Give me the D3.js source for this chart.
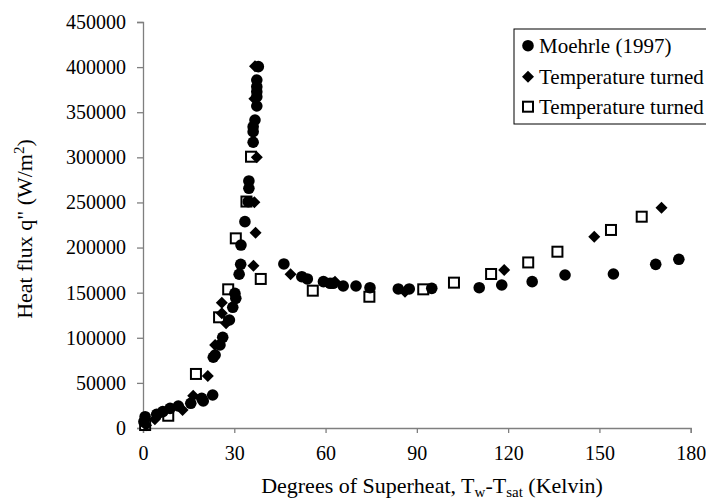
<!DOCTYPE html>
<html>
<head>
<meta charset="utf-8">
<script src="https://cdn.jsdelivr.net/npm/d3@7"></script>
<style>
  html, body { margin: 0; padding: 0; background: #fff; }
  svg text { font-family: 'Liberation Serif', 'Times New Roman', Times, serif; }
</style>
</head>
<body>
<svg id="chart" width="706" height="502"></svg>
<script>
// ---- Data ----
const seriesNames = ["Moehrle (1997)", "Temperature turned", "Temperature turned"];

const moehrleX = [0.3, 0.7, 4.5, 6.5, 8.9, 11.6, 15.7, 19.3, 19.8, 22.9, 23.1, 23.7, 25.3, 26.2, 28.4, 29.5, 30.2, 30.5, 31.6, 32.1, 32.2, 33.5, 34.6, 34.8, 34.8, 36.2, 36.2, 36.2, 36.8, 37.4, 37.4, 37.4, 37.4, 37.4, 37.9,
  46.3, 52.2, 54, 59.3, 61.5, 62.5, 65.8, 70, 74.6, 83.9, 87.5, 94.9, 110.5, 117.9, 127.9, 138.7, 154.6, 168.5, 176.1];
const moehrleY = [7000, 12500, 15200, 18100, 21800, 24400, 27400, 32900, 29900, 36600, 78400, 80900, 92000, 100500, 119700, 133800, 149300, 143700, 170400, 181400, 202800, 228700, 250800, 265700, 273800, 316700, 328400, 334000, 341400, 356900, 367200, 372800, 378300, 385700, 400500,
  181800, 167700, 165200, 162200, 160400, 160400, 157400, 157400, 155500, 154100, 154100, 154800, 155500, 158500, 162200, 169600, 170700, 181400, 187000];

const diamondX = [1, 3.9, 5.6, 13, 16.5, 21.3, 23.7, 25.9, 25.9, 27.3, 36.3, 37, 36.6, 37.4, 36.6, 36.8, 48.5, 63.1, 86.1, 118.7, 148.3, 170.4];
const diamondY = [3000, 9600, 16300, 20000, 35800, 57600, 92000, 127100, 138900, 116000, 179900, 216500, 250100, 300000, 365000, 401000, 170400, 162200, 151100, 175100, 212000, 244200];

const squareX = [0.7, 8.3, 17.4, 25, 28, 30.5, 34, 35.5, 38.7, 55.8, 74.4, 92.1, 102.2, 114.4, 126.6, 136.2, 153.8, 163.9];
const squareY = [3300, 13600, 59900, 122700, 153700, 210200, 251000, 300700, 165200, 152200, 145500, 153700, 161100, 170700, 183500, 195400, 219500, 234200];

const xTicks = [0, 30, 60, 90, 120, 150, 180];
const yTicks = [0, 50000, 100000, 150000, 200000, 250000, 300000, 350000, 400000, 450000];

// ---- Layout ----
const FONT = "'Liberation Serif', 'Times New Roman', Times, serif";
const svg = d3.select("#chart");
const x = d3.scaleLinear().domain([0, 180]).range([143, 690.7]);
const y = d3.scaleLinear().domain([0, 450000]).range([428, 22]);
const axisColor = "#7f7f7f";

// Axes
const xAxis = svg.append("g").attr("transform", `translate(0,${y(0)})`)
  .call(d3.axisBottom(x).tickValues(xTicks).tickSize(5).tickPadding(13).tickFormat(d3.format("d")));
const yAxis = svg.append("g").attr("transform", `translate(${x(0)},0)`)
  .call(d3.axisLeft(y).tickValues(yTicks).tickSize(6).tickPadding(11).tickFormat(d3.format("d")));
[xAxis, yAxis].forEach(g => {
  g.attr("font-family", FONT).attr("font-size", 20);
  g.select(".domain").attr("stroke", axisColor).attr("stroke-width", 1.3);
  g.selectAll(".tick line").attr("stroke", axisColor).attr("stroke-width", 1.3);
  g.selectAll(".tick text").attr("fill", "#000").attr("font-family", FONT).attr("font-size", 20);
});

// Marker drawers
function drawSquare(g, cx, cy) {
  g.append("rect").attr("x", cx - 5).attr("y", cy - 5).attr("width", 10).attr("height", 10)
    .attr("fill", "#fff").attr("stroke", "#000").attr("stroke-width", 2);
}
function drawDiamond(g, cx, cy) {
  g.append("path").attr("d", "M0,-6L6,0L0,6L-6,0Z").attr("transform", `translate(${cx},${cy})`).attr("fill", "#000");
}
function drawCircle(g, cx, cy) {
  g.append("circle").attr("cx", cx).attr("cy", cy).attr("r", 5.8).attr("fill", "#000");
}

const plot = svg.append("g");
squareX.forEach((d, i) => drawSquare(plot, x(d), y(squareY[i])));
diamondX.forEach((d, i) => drawDiamond(plot, x(d), y(diamondY[i])));
moehrleX.forEach((d, i) => drawCircle(plot, x(d), y(moehrleY[i])));

// Legend
const lg = svg.append("g");
lg.append("rect").attr("x", 514).attr("y", 29).attr("width", 260).attr("height", 95)
  .attr("fill", "#fff").attr("stroke", "#000").attr("stroke-width", 1);
const rowsY = [45.7, 76.7, 106.7];
drawCircle(lg, 528, rowsY[0]);
drawDiamond(lg, 528, rowsY[1]);
drawSquare(lg, 528, rowsY[2]);
seriesNames.forEach((n, i) => {
  lg.append("text").attr("x", 539).attr("y", rowsY[i] + 7).attr("font-family", FONT).attr("font-size", 21).text(n);
});

// Axis titles
const xt = svg.append("text").attr("x", 432).attr("y", 493).attr("text-anchor", "middle")
  .attr("font-family", FONT).attr("font-size", 22);
xt.append("tspan").text("Degrees of Superheat, T");
xt.append("tspan").attr("dy", 4).attr("font-size", 15).text("w");
xt.append("tspan").attr("dy", -4).text("-T");
xt.append("tspan").attr("dy", 4).attr("font-size", 15).text("sat");
xt.append("tspan").attr("dy", -4).text(" (Kelvin)");

const yt = svg.append("text").attr("transform", "translate(32,229) rotate(-90)").attr("text-anchor", "middle")
  .attr("font-family", FONT).attr("font-size", 22);
yt.append("tspan").text("Heat flux q\" (W/m");
yt.append("tspan").attr("dy", -8).attr("font-size", 15).text("2");
yt.append("tspan").attr("dy", 8).text(")");
</script>
</body>
</html>
